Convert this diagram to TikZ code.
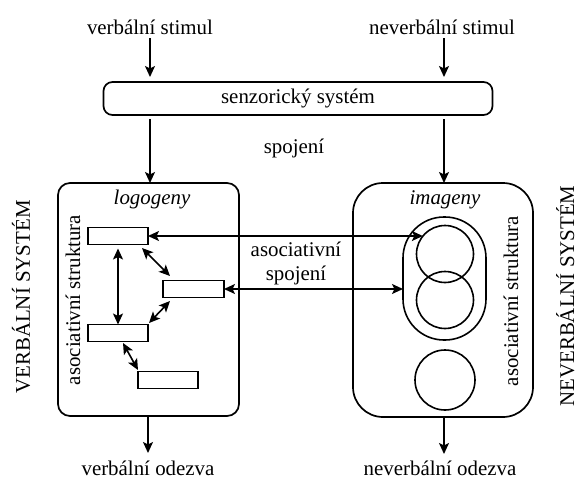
\documentclass[tikz,border=0pt]{standalone}
\usepackage{fontspec}
\setmainfont{Liberation Serif}
\usetikzlibrary{arrows.meta,calc}
\begin{document}
\begin{tikzpicture}[x=1pt,y=-1pt,
  every node/.style={font=\fontsize{20.9}{24}\selectfont, inner sep=0pt, outer sep=0pt},
  lbl/.style={anchor=base},
  itlbl/.style={anchor=base, font=\fontsize{20.9}{24}\selectfont\itshape},
  arr/.style={line width=1.6pt, -{Stealth[length=11pt,width=10pt,inset=2.5pt]}},
  darr/.style={line width=1.6pt, {Stealth[length=11pt,width=10pt,inset=2.5pt]}-{Stealth[length=11pt,width=10pt,inset=2.5pt]}},
  bigbox/.style={draw, line width=1.7pt, rectangle},
  wbox/.style={draw, line width=1.9pt, rectangle, minimum width=60pt, minimum height=17pt},
  circ/.style={draw, circle, line width=1.6pt, minimum size=57pt}
]
\useasboundingbox (0,0) rectangle (579,480);

% top labels and sensory system
\node[lbl] (vs) at (150,34) {verbální stimul};
\node[lbl] (ns) at (442,34) {neverbální stimul};
\node[bigbox, rounded corners=9pt, minimum width=389pt, minimum height=33pt] (sen) at (298,98.5) {senzorický systém};
\node[lbl] (sp) at (294,153) {spojení};

% system boxes
\node[bigbox, rounded corners=12pt, minimum width=181pt, minimum height=233pt] (logo) at (148.5,299.5) {};
\node[bigbox, rounded corners=30pt, minimum width=180pt, minimum height=234pt] (img) at (443,300) {};

\node[itlbl] (lg) at (152,204) {logogeny};
\node[itlbl] (im) at (445,204) {imageny};

% rotated labels
\node[lbl, rotate=90] (asl) at (80,300) {asociativní struktura};
\node[lbl, rotate=90] (asr) at (518,301) {asociativní struktura};
\node[lbl, rotate=90] (vsys) at (30,297) {VERBÁLNÍ SYSTÉM};
\node[lbl, rotate=90] (nsys) at (574,296) {NEVERBÁLNÍ SYSTÉM};

% logogens
\node[wbox] (R1) at (118,236) {};
\node[wbox, minimum width=61pt] (R2) at (193.5,289) {};
\node[wbox] (R3) at (118,333) {};
\node[wbox] (R4) at (168,380) {};

% imagens
\node[draw, line width=1.6pt, rectangle, rounded corners=41pt, minimum width=83pt, minimum height=123pt] (cap) at (444.5,278.5) {};
\node[circ] (C1) at (445,254) {};
\node[circ] (C2) at (445,300) {};
\node[circ, minimum size=60pt] (C3) at (445,380) {};

% associative connections text
\node[lbl] (as1) at (296,256) {asociativní};
\node[lbl] (as2) at (296,280) {spojení};

% bottom labels
\node[lbl] (vo) at (148,475) {verbální odezva};
\node[lbl] (no) at (440,475) {neverbální odezva};

% arrows top
\draw[arr] ($(vs.base)+(0,4)$) -- ($(vs.base |- sen.north)+(0,-5)$);
\draw[arr] ($(ns.base)+(2,4)$) -- ($(ns.base |- sen.north)+(2,-5)$);
\draw[arr] ($(sen.south -| vs.base)+(0,4)$) -- (logo.north -| vs.base);
\draw[arr] ($(sen.south -| ns.base)+(2,4)$) -- ($(img.north -| ns.base)+(2,0)$);

% arrows bottom
\draw[arr] (logo.south -| vo.base) -- ($(logo.south -| vo.base)+(0,37)$);
\draw[arr] ($(img.south -| no.base)+(4,0)$) -- ($(img.south -| no.base)+(4,37)$);

% inner associative arrows
\draw[darr] ($(R1.south)+(0,4)$) -- (R3.north);
\draw[darr] ($(R1.south east)+(-6,3.5)$) -- ($(R2.north west)+(7,-4.5)$);
\draw[darr] ($(R2.south west)+(7,3.5)$) -- ($(R3.north east)+(1,-1.5)$);
\draw[darr] ($(R3.south)+(5,1.5)$) -- ($(R4.north west)+(0,-1.5)$);

% referential connections
\draw[darr] (R1.east) -- (R1.east -| C1.141);
\draw[darr] (R2.east) -- (R2.east -| cap.west);
\end{tikzpicture}
\end{document}
